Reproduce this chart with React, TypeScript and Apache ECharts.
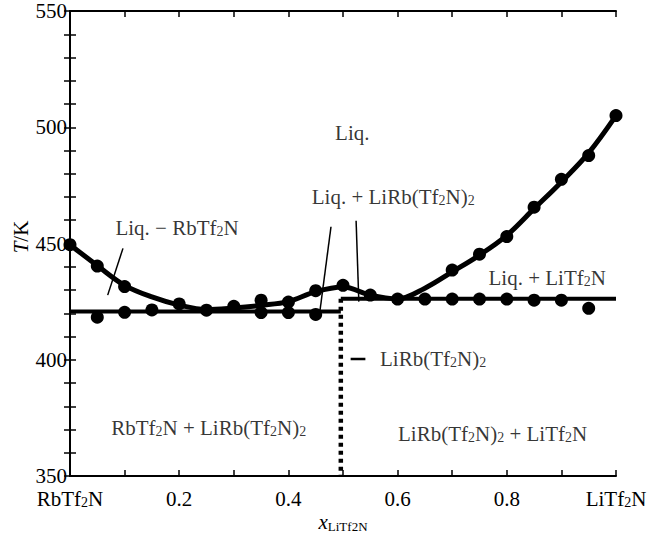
import React, { useEffect, useRef } from "react";
import * as echarts from "echarts";

const FONT = '"Liberation Serif", "DejaVu Serif", serif';

// Axis ranges and tick labels
const xMin = 0;
const xMax = 1;
const xInterval = 0.1;
const yMin = 350;
const yMax = 550;
const yInterval = 10;
const xTickLabels: Record<number, string> = {
  0: "{n|RbTf}{s|2}{n|N}",
  2: "{n|0.2}",
  4: "{n|0.4}",
  6: "{n|0.6}",
  8: "{n|0.8}",
  10: "{n|LiTf}{s|2}{n|N}",
};

// Measured liquidus points (upper) and solidus-region points (lower)
const liquidusPoints: [number, number][] = [
  [0, 449.5], [0.05, 440.3], [0.1, 431.5], [0.2, 424], [0.25, 421.3],
  [0.3, 423], [0.35, 425.6], [0.4, 424.8], [0.45, 429.7], [0.5, 432],
  [0.55, 427.8], [0.6, 426.1], [0.7, 438.6], [0.75, 445.4], [0.8, 453],
  [0.85, 465.6], [0.9, 477.6], [0.95, 487.8], [1.0, 505],
];
const solidusPoints: [number, number][] = [
  [0.05, 418.3], [0.1, 420.4], [0.15, 421.4], [0.35, 420.3], [0.4, 420.3],
  [0.45, 419.5], [0.65, 426.1], [0.7, 426.1], [0.75, 426.1], [0.8, 426.1],
  [0.85, 425.6], [0.9, 425.6], [0.95, 422.1],
];

// Fitted liquidus curve as drawn
const liquidusCurve: [number, number][] = [
  [0, 449.5], [0.05, 440.5], [0.1, 432], [0.15, 427], [0.2, 423.5],
  [0.25, 421.6], [0.3, 422.3], [0.35, 423.4], [0.4, 425], [0.45, 429.3],
  [0.5, 431.3], [0.55, 427.8], [0.6, 426.2], [0.65, 430.8], [0.7, 437.8],
  [0.75, 445], [0.8, 453.5], [0.85, 465], [0.9, 476.5], [0.95, 489], [1.0, 505],
];

// Invariant lines
const compoundX = 0.496;
const solidusLeftT = 420.7;
const solidusRightT = 426.2;
const solidusLeft: [number, number][] = [[0, solidusLeftT], [compoundX, solidusLeftT]];
const solidusRight: [number, number][] = [[compoundX, solidusRightT], [1, solidusRightT]];
const compoundLine: [number, number][] = [[compoundX, solidusRightT], [compoundX, 350]];

// Leader lines for annotations
const leaderLines: [number, number][][] = [
  [[0.097, 447.9], [0.069, 427.8]],
  [[0.478, 457.2], [0.458, 421.4]],
  [[0.524, 459.8], [0.529, 425]],
];
const dashLeader: [number, number][] = [[0.514, 400.3], [0.541, 400.3]];

// Annotation texts (rich format) and anchor points in data coordinates
const annotationTexts = [
  "{n|Liq.}",
  "{n|Liq. + LiRb(Tf}{s|2}{n|N)}{s|2}",
  "{n|Liq. − RbTf}{s|2}{n|N}",
  "{n|Liq. + LiTf}{s|2}{n|N}",
  "{n|LiRb(Tf}{s|2}{n|N)}{s|2}",
  "{n|RbTf}{s|2}{n|N + LiRb(Tf}{s|2}{n|N)}{s|2}",
  "{n|LiRb(Tf}{s|2}{n|N)}{s|2}{n| + LiTf}{s|2}{n|N}",
];
const annotationX = [0.517, 0.592, 0.196, 0.874, 0.665, 0.254, 0.774];
const annotationT = [497.5, 470, 456.5, 435.2, 400.3, 370.6, 368];

const rich = {
  n: { fontSize: 21, fontFamily: FONT, color: "#000", lineHeight: 21 },
  s: { fontSize: 14, fontFamily: FONT, color: "#000", lineHeight: 8, verticalAlign: "bottom" as const },
  i: { fontSize: 21, fontFamily: FONT, color: "#000", lineHeight: 21, fontStyle: "italic" as const },
  si: { fontSize: 13, fontFamily: FONT, color: "#000", lineHeight: 8, verticalAlign: "bottom" as const },
};

export default function App() {
  const ref = useRef<HTMLDivElement>(null);
  useEffect(() => {
    if (!ref.current) return;
    const chart = echarts.init(ref.current, null, { renderer: "svg" });
    const axisCommon = {
      type: "value" as const,
      axisLine: { show: true, lineStyle: { color: "#000", width: 2 } },
      axisTick: { show: true, inside: true, length: 6, lineStyle: { color: "#000", width: 1.5 } },
      splitLine: { show: false },
    };
    const lineSeries = (data: [number, number][], width: number, extra: any = {}) => ({
      type: "line",
      data,
      showSymbol: false,
      symbol: "none",
      silent: true,
      lineStyle: { color: "#000", width, ...extra },
      z: 2,
    });
    chart.setOption({
      animation: false,
      backgroundColor: "#fff",
      grid: { left: 70, top: 11, right: 37, bottom: 66, containLabel: false },
      xAxis: [
        {
          ...axisCommon,
          position: "bottom",
          min: xMin,
          max: xMax,
          interval: xInterval,
          axisLabel: {
            show: true,
            margin: 12,
            formatter: (v: number) => xTickLabels[Math.round(v * 10)] ?? "",
            rich,
          },
        },
        {
          ...axisCommon,
          position: "top",
          min: xMin,
          max: xMax,
          interval: xInterval,
          axisLabel: { show: false },
        },
      ],
      yAxis: [
        {
          ...axisCommon,
          position: "left",
          min: yMin,
          max: yMax,
          interval: yInterval,
          axisLabel: {
            show: true,
            margin: 3,
            formatter: (v: number) => (Math.round(v) % 50 === 0 ? "{n|" + Math.round(v) + "}" : ""),
            rich,
          },
        },
        {
          ...axisCommon,
          position: "right",
          min: yMin,
          max: yMax,
          interval: yInterval,
          axisLabel: { show: false },
        },
      ],
      series: [
        { ...lineSeries(liquidusCurve, 5), smooth: 0.35 },
        lineSeries(solidusLeft, 4),
        lineSeries(solidusRight, 4),
        lineSeries(compoundLine, 4.5, { type: [4, 4], cap: "butt" }),
        ...leaderLines.map((d) => lineSeries(d, 1.5)),
        lineSeries(dashLeader, 2.5),
        {
          type: "scatter",
          data: liquidusPoints,
          symbol: "circle",
          symbolSize: 13,
          itemStyle: { color: "#000", opacity: 1 },
          silent: true,
          z: 3,
        },
        {
          type: "scatter",
          data: solidusPoints,
          symbol: "circle",
          symbolSize: 13,
          itemStyle: { color: "#000", opacity: 1 },
          silent: true,
          z: 3,
        },
        {
          type: "scatter",
          data: annotationTexts.map((t, i) => ({ value: [annotationX[i], annotationT[i]], name: t })),
          symbolSize: 0,
          silent: true,
          z: 4,
          label: {
            show: true,
            position: "inside",
            formatter: (p: any) => p.name,
            rich,
          },
        },
      ],
      graphic: [
        {
          type: "text",
          x: 343,
          y: 522,
          style: {
            text: "{i|x}{si|LiTf2N}",
            rich,
            align: "center",
            verticalAlign: "middle",
          },
        },
        {
          type: "text",
          x: 21,
          y: 237,
          rotation: Math.PI / 2,
          style: {
            text: "{i|T}{n|/K}",
            rich,
            align: "center",
            verticalAlign: "middle",
          },
        },
      ],
    });
    return () => chart.dispose();
  }, []);
  return (
    <div
      ref={ref}
      style={{ position: "fixed", left: 0, top: 0, width: 653, height: 542, background: "#fff" }}
    />
  );
}
